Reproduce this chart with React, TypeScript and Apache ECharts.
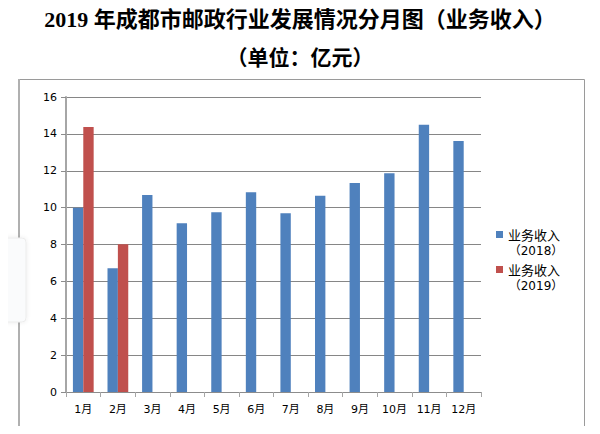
import React, { useEffect, useRef } from "react";
import * as echarts from "echarts";

const months = ["1月", "2月", "3月", "4月", "5月", "6月", "7月", "8月", "9月", "10月", "11月", "12月"];
const revenue2018 = [10.0, 6.71, 10.69, 9.15, 9.75, 10.84, 9.7, 10.64, 11.33, 11.87, 14.49, 13.61];
const revenue2019 = [14.37, 8.01, null, null, null, null, null, null, null, null, null, null];
const seriesNames = ["业务收入（2018）", "业务收入（2019）"];
const legendLines = [
  ["业务收入", "（2018）"],
  ["业务收入", "（2019）"],
];
const colors = ["#4F81BD", "#C0504D"];
const titleText = "2019 年成都市邮政行业发展情况分月图（业务收入）";
const subtitleText = "（单位：亿元）";

const labelFont = "DejaVu Sans, 'Noto Sans CJK SC', sans-serif";

export default function App() {
  const ref = useRef<HTMLDivElement>(null);
  useEffect(() => {
    if (!ref.current) return;
    const chart = echarts.init(ref.current, null, { renderer: "svg" });
    const legendGraphics: any[] = [];
    const legendTops = [231, 266];
    legendLines.forEach((lines, i) => {
      const top = legendTops[i];
      legendGraphics.push({
        type: "rect",
        shape: { x: 496, y: top, width: 7, height: 7 },
        style: { fill: colors[i] },
        silent: true,
      });
      legendGraphics.push({
        type: "text",
        x: 508,
        y: top + 3.5,
        style: {
          text: lines[0],
          fill: "#000",
          font: "13px 'Noto Sans CJK SC', sans-serif",
          textVerticalAlign: "middle",
          verticalAlign: "middle",
        },
        silent: true,
      });
      legendGraphics.push({
        type: "text",
        x: 536,
        y: top + 19.5,
        style: {
          text: lines[1],
          fill: "#000",
          font: "12px DejaVu Sans, 'Noto Sans CJK SC', sans-serif",
          align: "center",
          textAlign: "center",
          textVerticalAlign: "middle",
          verticalAlign: "middle",
        },
        silent: true,
      });
    });
    chart.setOption({
      animation: false,
      backgroundColor: "#fff",
      title: [
        {
          text: titleText,
          left: "center",
          top: 3,
          textStyle: {
            fontSize: 22,
            fontWeight: "bold",
            color: "#000",
            fontFamily: "'Liberation Serif', 'Noto Sans CJK SC', serif",
          },
        },
        {
          text: subtitleText,
          left: "center",
          top: 42,
          textStyle: {
            fontSize: 21,
            fontWeight: "bold",
            color: "#000",
            fontFamily: "'Liberation Serif', 'Noto Sans CJK SC', serif",
          },
        },
      ],
      grid: { left: 66, right: 119, top: 97, bottom: 42, containLabel: false },
      xAxis: {
        type: "category",
        data: months,
        axisLine: { lineStyle: { color: "#8c8c8c", width: 1 } },
        axisTick: { show: true, length: 5, lineStyle: { color: "#a6a6a6" } },
        axisLabel: { color: "#000", fontSize: 11, fontFamily: labelFont, margin: 12 },
      },
      yAxis: {
        type: "value",
        min: 0,
        max: 16,
        interval: 2,
        axisLine: { show: true, lineStyle: { color: "#a6a6a6", width: 2 } },
        axisTick: { show: true, length: 5, lineStyle: { color: "#8c8c8c" } },
        axisLabel: { color: "#000", fontSize: 11, fontFamily: labelFont, margin: 9 },
        splitLine: { lineStyle: { color: "#868686", width: 1 } },
      },
      series: [
        {
          name: seriesNames[0],
          type: "bar",
          data: revenue2018,
          itemStyle: { color: colors[0] },
          barGap: "0%",
          barCategoryGap: "40%",
        },
        {
          name: seriesNames[1],
          type: "bar",
          data: revenue2019,
          itemStyle: { color: colors[1] },
          barGap: "0%",
          barCategoryGap: "40%",
        },
      ],
      graphic: [
        {
          type: "rect",
          shape: { x: 18.5, y: 79.5, width: 566, height: 347 },
          style: { fill: "none", stroke: "#9a9a9a", lineWidth: 1 },
          silent: true,
          z: -1,
        },
        {
          type: "line",
          shape: { x1: 19, y1: 79, x2: 19, y2: 427 },
          style: { stroke: "#b0b0b0", lineWidth: 2 },
          silent: true,
        },
        {
          type: "rect",
          shape: { x: -4, y: 238, width: 30, height: 84, r: 4 },
          style: {
            fill: "#fafbfc",
            stroke: "#ececec",
            lineWidth: 1,
            shadowBlur: 4,
            shadowColor: "rgba(0,0,0,0.08)",
          },
          silent: true,
          z: 10,
        },
        ...legendGraphics,
      ],
    });
    return () => chart.dispose();
  }, []);
  return <div ref={ref} style={{ width: 600, height: 434, margin: -8 }} />;
}
